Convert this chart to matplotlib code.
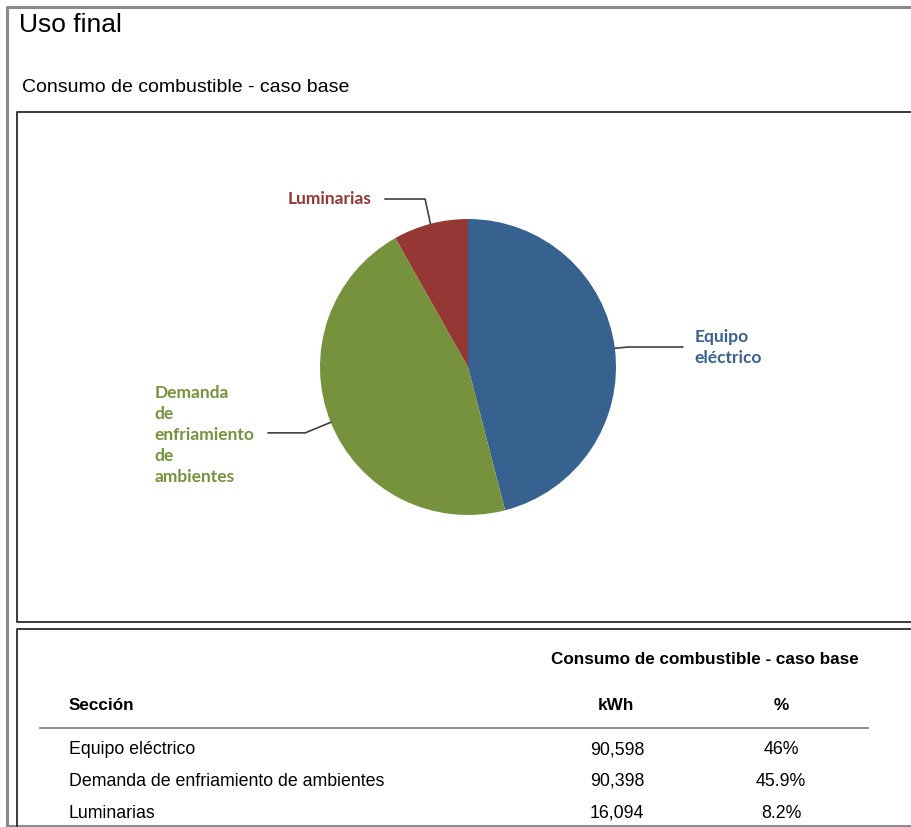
import numpy as np
import matplotlib.pyplot as plt

# data
sections = ["Equipo eléctrico", "Demanda de enfriamiento de ambientes", "Luminarias"]
pie_labels = ["Equipo\neléctrico", "Demanda\nde\nenfriamiento\nde\nambientes", "Luminarias"]
kwh = [90598, 90398, 16094]
pct_labels = ["46%", "45.9%", "8.2%"]
colors = ["#37618F", "#76923C", "#953735"]

W, H = 912, 827
fig = plt.figure(figsize=(W / 100, H / 100), dpi=100)

# overlay axes in pixel units for frames and text
bg = fig.add_axes([0, 0, 1, 1])
bg.set_xlim(0, W)
bg.set_ylim(H, 0)
bg.axis("off")

# outer frame
bg.plot([7, 7, W + 5], [H - 1, 7, 7], color="#8a8a8a", lw=2.2)
bg.plot([7, W + 5], [H - 1, H - 1], color="#8a8a8a", lw=1.5)
# chart box and table box
bg.plot([W + 5, 17, 17, W + 5], [112, 112, 622, 622], color="#3a3a3a", lw=1.4)
bg.plot([W + 5, 17, 17], [629, 629, H + 5], color="#3a3a3a", lw=1.4)

title_font = ["Liberation Sans", "DejaVu Sans"]
bg.text(19, 25, "Uso final", fontsize=19, family=title_font, va="center", ha="left")
bg.text(22, 87, "Consumo de combustible - caso base", fontsize=14,
        family=title_font, va="center", ha="left")

# table
tfont = ["Liberation Sans", "DejaVu Sans"]
bg.text(705, 660, "Consumo de combustible - caso base", fontsize=12.3,
        family=tfont, weight="bold", ha="center", va="center")
bg.text(69, 705, "Sección", fontsize=12.3, family=tfont, weight="bold", va="center")
bg.text(616, 705, "kWh", fontsize=12.3, family=tfont, weight="bold", ha="center", va="center")
bg.text(781, 705, "%", fontsize=12.3, family=tfont, weight="bold", ha="center", va="center")
bg.plot([40, 868], [728, 728], color="#7b8797", lw=1.3)
row_y = [750, 781, 813]
for name, v, p, y in zip(sections, kwh, pct_labels, row_y):
    bg.text(69, y, name, fontsize=12.8, family=tfont, va="center")
    bg.text(617, y, f"{v:,}", fontsize=12.8, family=tfont, ha="center", va="center")
    bg.text(781, y, p, fontsize=12.8, family=tfont, ha="center", va="center")

# pie
cx, cy, r = 468, 367, 148
ax = fig.add_axes([(cx - r) / W, 1 - (cy + r) / H, 2 * r / W, 2 * r / H])
wedges, _ = ax.pie(kwh, colors=colors, startangle=90, counterclock=False)
ax.set_xlim(-1, 1)
ax.set_ylim(-1, 1)
ax.set_aspect("equal")
ax.axis("off")

lfont = ["Lato", "DejaVu Sans"]
lc = "#404040"
# leader lines and labels (label positions in pie radius units)
for w, lab, col in zip(wedges, pie_labels, colors):
    mid = np.deg2rad((w.theta1 + w.theta2) / 2)
    x0, y0 = np.cos(mid), np.sin(mid)
    if lab.startswith("Equipo"):
        ax.plot([x0, 1.08, 1.45], [y0, 0.135, 0.135], color=lc, lw=1.2, clip_on=False)
        ax.text(1.53, 0.13, lab, color=col, fontsize=12.5, family=lfont, weight="bold",
                ha="left", va="center", linespacing=1.4, clip_on=False)
    elif lab.startswith("Demanda"):
        ax.plot([x0, -1.1, -1.35], [y0, -0.445, -0.445], color=lc, lw=1.2, clip_on=False)
        ax.text(-2.12, -0.46, lab, color=col, fontsize=12.5, family=lfont, weight="bold",
                ha="left", va="center", linespacing=1.4, clip_on=False)
    else:
        ax.plot([x0, -0.29, -0.56], [y0, 1.135, 1.135], color=lc, lw=1.2, clip_on=False)
        ax.text(-0.655, 1.135, lab, color=col, fontsize=12.5, family=lfont, weight="bold",
                ha="right", va="center", clip_on=False)

fig.savefig("out.png", dpi=100)
